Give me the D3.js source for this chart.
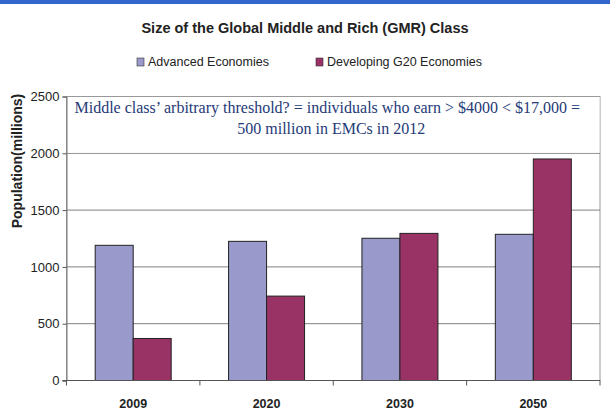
<!DOCTYPE html>
<html lang="en">
<head>
    <meta charset="UTF-8">
    <title>Size of the Global Middle and Rich (GMR) Class</title>
    <script src="https://cdn.jsdelivr.net/npm/d3@7"></script>
    <style type="text/css">
        body { margin: 0; background: #fff; }
        svg { display: block; }
    </style>
</head>
<body>
<div id="chart"></div>
<script type="text/javascript">

    // data
    let years = ["2009", "2020", "2030", "2050"];
    let advanced = [1190, 1225, 1252, 1287];
    let developing = [370, 743, 1295, 1950];
    let seriesNames = ["Advanced Economies", "Developing G20 Economies"];
    let yTicks = [0, 500, 1000, 1500, 2000, 2500];

    let colors = ["#9999cc", "#993366"];
    let width = 610, height = 410;
    let margin = {top: 96.5, right: 10, bottom: 29.5, left: 66.5};
    let innerW = width - margin.left - margin.right;   // plot width
    let innerH = height - margin.top - margin.bottom;

    let svg = d3.select("#chart").append("svg")
        .attr("width", width)
        .attr("height", height);

    // blue strip at the top of the slide
    svg.append("rect")
        .attr("x", 0).attr("y", 0)
        .attr("width", width).attr("height", 4)
        .attr("fill", "#3366cc");

    svg.append("text")
        .attr("x", 305).attr("y", 33)
        .attr("text-anchor", "middle")
        .style("font-family", "Liberation Sans, Arial, sans-serif")
        .style("font-weight", "bold")
        .style("font-size", "14.5px")
        .attr("fill", "#222")
        .text("Size of the Global Middle and Rich (GMR) Class");

    // legend
    let legendX = [137, 316];
    let legend = svg.selectAll(".legend").data(seriesNames).enter().append("g")
        .attr("class", "legend")
        .attr("transform", function (d, i) { return "translate(" + legendX[i] + ",62)"; });
    legend.append("rect")
        .attr("x", 0).attr("y", -4)
        .attr("width", 7).attr("height", 8)
        .attr("fill", function (d, i) { return colors[i]; })
        .attr("stroke", "#333").attr("stroke-width", 0.6);
    legend.append("text")
        .attr("x", 11).attr("y", 4)
        .style("font-family", "Liberation Sans, Arial, sans-serif")
        .style("font-size", "12.5px")
        .attr("fill", "#222")
        .text(function (d) { return d; });

    let g = svg.append("g")
        .attr("transform", "translate(" + margin.left + "," + margin.top + ")");

    let x = d3.scaleBand().domain(years).range([0, innerW]);
    let y = d3.scaleLinear().domain([0, 2500]).range([innerH, 0]);

    // plot border and gridlines
    g.append("rect")
        .attr("width", innerW).attr("height", innerH)
        .attr("fill", "none").attr("stroke", "#999").attr("stroke-width", 1);
    g.selectAll(".grid").data(yTicks.slice(1, -1)).enter().append("line")
        .attr("x1", 0).attr("x2", innerW)
        .attr("y1", function (d) { return y(d); })
        .attr("y2", function (d) { return y(d); })
        .attr("stroke", "#808080").attr("stroke-width", 1);

    // annotation box over the top band
    g.append("rect")
        .attr("x", 0.5).attr("y", 0.5)
        .attr("width", innerW - 1).attr("height", y(2000) - 1)
        .attr("fill", "#fff");
    let note = g.append("text")
        .attr("text-anchor", "middle")
        .style("font-family", "Liberation Serif, Times New Roman, serif")
        .style("font-size", "16px")
        .attr("fill", "#253a78");
    note.append("tspan").attr("x", innerW / 2 - 6).attr("y", 16)
        .text("Middle class\u2019 arbitrary threshold? = individuals who earn > $4000 < $17,000 =");
    note.append("tspan").attr("x", innerW / 2 - 2).attr("y", 37)
        .text("500 million in EMCs in 2012");

    // bars
    let barW = 38;
    let groups = g.selectAll(".year").data(years).enter().append("g")
        .attr("transform", function (d) { return "translate(" + (x(d) + x.bandwidth() / 2 - barW) + ",0)"; });
    groups.append("rect")
        .attr("x", 0)
        .attr("y", function (d, i) { return y(advanced[i]); })
        .attr("width", barW)
        .attr("height", function (d, i) { return innerH - y(advanced[i]); })
        .attr("fill", colors[0]).attr("stroke", "#222").attr("stroke-width", 1);
    groups.append("rect")
        .attr("x", barW)
        .attr("y", function (d, i) { return y(developing[i]); })
        .attr("width", barW)
        .attr("height", function (d, i) { return innerH - y(developing[i]); })
        .attr("fill", colors[1]).attr("stroke", "#222").attr("stroke-width", 1);

    // y axis
    let yAxis = g.append("g")
        .call(d3.axisLeft(y).tickValues(yTicks).tickFormat(d3.format("d")).tickSize(4).tickPadding(3));
    yAxis.select(".domain").attr("stroke", "#777");
    yAxis.selectAll(".tick line").attr("stroke", "#555");
    yAxis.selectAll("text")
        .style("font-family", "Liberation Sans, Arial, sans-serif")
        .style("font-size", "13px")
        .attr("fill", "#222");

    // x axis with ticks at band edges
    let xAxis = g.append("g").attr("transform", "translate(0," + innerH + ")");
    xAxis.append("line").attr("x1", -4).attr("x2", innerW).attr("stroke", "#555");
    let edges = years.map(function (d) { return x(d); }).concat([innerW]);
    xAxis.selectAll(".edge").data(edges).enter().append("line")
        .attr("x1", function (d) { return d; }).attr("x2", function (d) { return d; })
        .attr("y1", 0).attr("y2", 5).attr("stroke", "#555");
    xAxis.selectAll(".lbl").data(years).enter().append("text")
        .attr("x", function (d) { return x(d) + x.bandwidth() / 2; })
        .attr("y", 27)
        .attr("text-anchor", "middle")
        .style("font-family", "Liberation Sans, Arial, sans-serif")
        .style("font-weight", "bold")
        .style("font-size", "12.5px")
        .attr("fill", "#222")
        .text(function (d) { return d; });

    svg.append("text")
        .attr("transform", "translate(22,161) rotate(-90)")
        .attr("text-anchor", "middle")
        .style("font-family", "Liberation Sans, Arial, sans-serif")
        .style("font-weight", "bold")
        .style("font-size", "14px")
        .attr("fill", "#222")
        .text("Population(millions)");
</script>
</body>
</html>
